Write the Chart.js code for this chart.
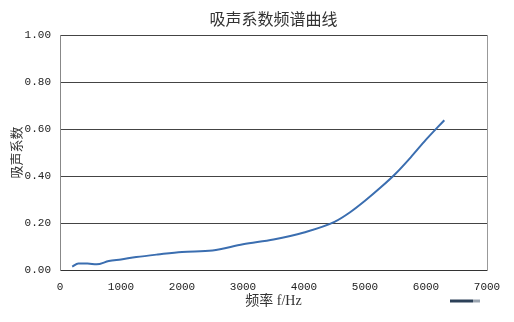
<!DOCTYPE html>
<html lang="zh">
<head>
    <meta charset="UTF-8">
    <title>吸声系数频谱曲线</title>
    <script src="https://cdn.jsdelivr.net/npm/chart.js"></script>
    <style>
        body { margin: 0; background: #fff; }
    </style>
</head>
<body>
<canvas id="absChart" width="514" height="322"></canvas>
<script>
    // frequency (Hz) and absorption coefficient
    const freqs = [200, 300, 450, 600, 800, 1000, 1250, 1600, 2000, 2500, 3000, 3500, 4000, 4500, 4750, 5000, 5250, 5500, 5750, 6000, 6300];
    const alpha = [0.014, 0.028, 0.028, 0.024, 0.038, 0.045, 0.055, 0.066, 0.077, 0.083, 0.110, 0.130, 0.160, 0.205, 0.245, 0.295, 0.350, 0.410, 0.480, 0.555, 0.638];
    const yTicks = [0, 0.2, 0.4, 0.6, 0.8, 1.0];
    const xTicks = [0, 1000, 2000, 3000, 4000, 5000, 6000, 7000];

    const points = freqs.map((f, i) => ({ x: f, y: alpha[i] }));
    const lineColor = '#3b6eb0';

    // small legend swatch bottom right, like the original export
    const swatch = {
        id: 'swatch',
        afterDraw(chart) {
            const ctx = chart.ctx;
            const a = chart.chartArea;
            ctx.save();
            ctx.lineWidth = 3;
            ctx.strokeStyle = '#2c4058';
            ctx.beginPath();
            ctx.moveTo(a.right - 37, a.bottom + 31);
            ctx.lineTo(a.right - 14, a.bottom + 31);
            ctx.stroke();
            ctx.strokeStyle = '#9aa4b0';
            ctx.beginPath();
            ctx.moveTo(a.right - 14, a.bottom + 31);
            ctx.lineTo(a.right - 7, a.bottom + 31);
            ctx.stroke();
            ctx.restore();
        }
    };

    new Chart(document.getElementById('absChart').getContext('2d'), {
        type: 'scatter',
        data: {
            datasets: [{
                label: '吸声系数',
                data: points,
                showLine: true,
                borderColor: lineColor,
                backgroundColor: lineColor,
                borderWidth: 2,
                pointRadius: 0,
                cubicInterpolationMode: 'monotone'
            }]
        },
        options: {
            responsive: false,
            animation: false,
            layout: { padding: { left: 0, right: 27, top: 0, bottom: 0 } },
            plugins: {
                legend: { display: false },
                tooltip: { enabled: false },
                title: {
                    display: true,
                    text: '吸声系数频谱曲线',
                    fullSize: false,
                    color: '#333',
                    font: { family: '"Noto Sans CJK SC"', size: 16, weight: 'normal' },
                    padding: { top: 9, bottom: 7 }
                }
            },
            scales: {
                x: {
                    type: 'linear',
                    min: 0,
                    max: 7000,
                    afterBuildTicks: s => { s.ticks = xTicks.map(v => ({ value: v })); },
                    afterFit: s => { s.height = 52; },
                    grid: { display: false },
                    border: { color: '#333', width: 1 },
                    ticks: {
                        color: '#222',
                        padding: 2,
                        maxRotation: 0,
                        font: { family: '"Liberation Mono"', size: 11 },
                        callback: v => String(v)
                    },
                    title: {
                        display: true,
                        text: '频率 f/Hz',
                        color: '#333',
                        font: { family: '"Liberation Serif", "Noto Sans CJK SC"', size: 14 },
                        padding: { top: 0, bottom: 12 }
                    }
                },
                y: {
                    min: 0,
                    max: 1,
                    afterBuildTicks: s => { s.ticks = yTicks.map(v => ({ value: v })); },
                    afterFit: s => { s.width = 60; },
                    grid: { color: '#444', lineWidth: 1, drawTicks: false },
                    border: { color: '#888', width: 1 },
                    ticks: {
                        color: '#222',
                        padding: 9,
                        font: { family: '"Liberation Mono"', size: 11 },
                        callback: v => v.toFixed(2)
                    },
                    title: {
                        display: true,
                        text: '吸声系数',
                        color: '#333',
                        font: { family: '"Noto Sans CJK SC"', size: 13 },
                        padding: { top: 8, bottom: 0 }
                    }
                },
                y2: {
                    position: 'right',
                    min: 0,
                    max: 1,
                    afterFit: s => { s.width = 0; },
                    grid: { display: false },
                    border: { color: '#999', width: 1 },
                    ticks: { display: false }
                }
            }
        },
        plugins: [swatch]
    });
</script>
</body>
</html>
